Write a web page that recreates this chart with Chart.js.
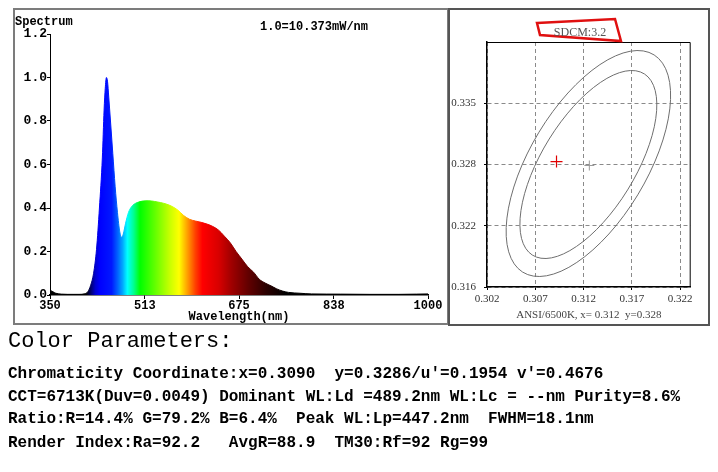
<!DOCTYPE html>
<html>
<head>
<meta charset="utf-8">
<script src="https://cdn.jsdelivr.net/npm/chart.js@4/dist/chart.umd.min.js"></script>
<style>
  html, body { margin: 0; padding: 0; background: #fff; }
  #root { position: relative; width: 718px; height: 472px; overflow: hidden; background: #fff; }
  .abs { position: absolute; }
  #lbox { left: 13px; top: 8px; width: 432px; height: 313px; border: 2px solid #7c7c7c; }
  #rbox { left: 448px; top: 8px; width: 258px; height: 314px; border: 2px solid #555; }
  #c1 { left: 14px; top: 9px; }
  #c2 { left: 449px; top: 9px; }
  .mono { font-family: "Liberation Mono", "Courier New", monospace; color: #000; white-space: pre; }
  .lbl { font-weight: bold; font-size: 12px; line-height: 14px; }
  .big { font-size: 22px; line-height: 22px; font-weight: normal; }
  .line { font-size: 16px; line-height: 16px; font-weight: bold; }
  #sdcm { font-family: "Liberation Serif", serif; font-size: 12px; line-height: 14px; color: #555; text-align: center; white-space: pre; }
</style>
</head>
<body>
<div id="root">
  <div id="lbox" class="abs"></div>
  <div id="rbox" class="abs"></div>
  <canvas id="c1" class="abs" width="434" height="316"></canvas>
  <canvas id="c2" class="abs" width="260" height="316"></canvas>
  <div class="abs mono lbl" style="left:15px; top:15px;">Spectrum</div>
  <div class="abs mono lbl" style="left:260px; top:20px;">1.0=10.373mW/nm</div>
  <svg class="abs" style="left:0; top:0;" width="718" height="472">
    <polygon points="537,23 615,19 621,41 540,35" fill="none" stroke="#e01010" stroke-width="2.5"/>
  </svg>
  <div id="sdcm" class="abs" style="left:540px; top:25px; width:80px;">SDCM:3.2</div>
  <div class="abs mono big" style="left:8px; top:331px;">Color Parameters:</div>
  <div class="abs mono line" style="left:8px; top:366px;">Chromaticity Coordinate:x=0.3090  y=0.3286/u'=0.1954 v'=0.4676</div>
  <div class="abs mono line" style="left:8px; top:389px;">CCT=6713K(Duv=0.0049) Dominant WL:Ld =489.2nm WL:Lc = --nm Purity=8.6%</div>
  <div class="abs mono line" style="left:8px; top:411px;">Ratio:R=14.4% G=79.2% B=6.4%  Peak WL:Lp=447.2nm  FWHM=18.1nm</div>
  <div class="abs mono line" style="left:8px; top:435px;">Render Index:Ra=92.2   AvgR=88.9  TM30:Rf=92 Rg=99</div>
</div>
<script>
// ---------- Spectrum data ----------
const wavelengths = [350,355,360,370,380,390,400,410,415,420,425,430,435,440,443,445,447,449,451,454,458,462,466,470,473,476,480,485,490,495,500,510,520,530,540,550,560,570,580,590,600,610,620,630,640,650,660,670,680,690,700,710,720,730,740,750,760,780,800,850,900,950,980,1000];
const intensity = [0.022,0.015,0.008,0.004,0.003,0.003,0.003,0.006,0.015,0.045,0.10,0.21,0.40,0.63,0.85,0.95,1.0,0.98,0.91,0.80,0.65,0.50,0.38,0.29,0.265,0.28,0.33,0.38,0.405,0.418,0.425,0.432,0.433,0.43,0.425,0.418,0.407,0.39,0.365,0.348,0.34,0.334,0.326,0.315,0.298,0.27,0.24,0.20,0.165,0.13,0.105,0.072,0.055,0.042,0.028,0.018,0.012,0.008,0.005,0.004,0.003,0.003,0.004,0.005];
const wavelengthTicks = [350,513,675,838,1000];
const intensityTicks = [0,0.2,0.4,0.6,0.8,1.0,1.2];

// ---------- Chromaticity data ----------
// MacAdam-type ellipses (outer, inner): centre, semi-axes (CIE x/y units), orientation
const ellipseCenterX = [0.3125, 0.3125];
const ellipseCenterY = [0.3285, 0.3284];
const ellipseSemiMajor = [0.01293, 0.01085];
const ellipseSemiMinor = [0.00602, 0.00481];
const ellipseAngleDeg = [58.2, 57.6];
const targetPointX = [0.3126];
const targetPointY = [0.3283];
const measuredPointX = [0.3092];
const measuredPointY = [0.3287];
const cieXTicks = [0.302,0.307,0.312,0.317,0.322];
const cieYTicks = [0.316,0.3222,0.3284,0.3346];

Chart.defaults.animation = false;
Chart.defaults.devicePixelRatio = 1;

const spectrumColors = [[350,'#000000'],[412,'#000000'],[420,'#00006a'],[428,'#0000d0'],[436,'#0000ff'],[456,'#0018ff'],[466,'#0060ff'],[475,'#00a8ff'],[483,'#00ffff'],[494,'#00ff90'],[505,'#00ff00'],[530,'#60ff00'],[556,'#c8ff00'],[572,'#ffff00'],[586,'#ffa000'],[600,'#ff4000'],[612,'#ff0000'],[640,'#d80000'],[662,'#a00000'],[692,'#600000'],[722,'#2a0000'],[755,'#000000'],[1000,'#000000']];

function spectrumFill(context) {
  const chart = context.chart;
  const xs = chart.scales && chart.scales.x;
  if (!xs || !chart.chartArea) return '#0000ff';
  const x0 = xs.getPixelForValue(350), x1 = xs.getPixelForValue(1000);
  const g = chart.ctx.createLinearGradient(x0, 0, x1, 0);
  spectrumColors.forEach(([nm, c]) => g.addColorStop((nm - 350) / 650, c));
  return g;
}

const monoBold = { family: 'Liberation Mono', weight: 'bold', size: 12 };

new Chart(document.getElementById('c1'), {
  type: 'line',
  data: {
    datasets: [{
      data: wavelengths.map((w, i) => ({ x: w, y: intensity[i] })),
      fill: 'origin',
      backgroundColor: spectrumFill,
      borderColor: spectrumFill,
      borderWidth: 1,
      pointRadius: 0,
      cubicInterpolationMode: 'monotone'
    }]
  },
  options: {
    responsive: false,
    animation: false,
    events: [],
    layout: { padding: { top: 25, right: 20, left: 0, bottom: 0 } },
    plugins: { legend: { display: false }, tooltip: { enabled: false }, title: { display: false } },
    scales: {
      x: {
        type: 'linear', min: 350, max: 1000,
        afterBuildTicks: s => { s.ticks = wavelengthTicks.map(v => ({ value: v })); },
        afterFit: s => { s.height = 30; },
        grid: { display: true, drawOnChartArea: false, drawTicks: true, tickLength: 4, color: '#000' },
        border: { display: true, color: '#000', width: 1.5 },
        ticks: { color: '#000', font: monoBold, padding: 0, maxRotation: 0, autoSkip: false, callback: v => String(v) },
        title: { display: true, text: 'Wavelength(nm)', color: '#000', font: monoBold, padding: { top: 0, bottom: 1 } }
      },
      y: {
        type: 'linear', min: 0, max: 1.2,
        afterBuildTicks: s => { s.ticks = intensityTicks.map(v => ({ value: v })); },
        afterFit: s => { s.width = 36; },
        grid: { display: true, drawOnChartArea: false, drawTicks: true, tickLength: 3, color: '#000' },
        border: { display: true, color: '#000', width: 1 },
        ticks: { color: '#000', font: { family: 'Liberation Mono', weight: 'bold', size: 13 }, padding: 0, callback: v => Number(v).toFixed(1) }
      }
    }
  }
});

const framePlugin = {
  id: 'frame',
  beforeDatasetsDraw(chart) {
    const { ctx, chartArea: a } = chart;
    ctx.save();
    ctx.strokeStyle = '#000';
    ctx.lineWidth = 1;
    ctx.beginPath();
    ctx.moveTo(a.left, a.top + 0.5);
    ctx.lineTo(a.right - 0.5, a.top + 0.5);
    ctx.lineTo(a.right - 0.5, a.bottom);
    ctx.stroke();
    ctx.restore();
  }
};

// draws each ellipse through the chart's x/y scales
const ellipsePlugin = {
  id: 'ellipses',
  beforeDatasetsDraw(chart) {
    const { ctx, scales: { x, y } } = chart;
    const sx = (x.getPixelForValue(x.max) - x.getPixelForValue(x.min)) / (x.max - x.min);
    const sy = (y.getPixelForValue(y.max) - y.getPixelForValue(y.min)) / (y.max - y.min);
    ctx.save();
    ctx.strokeStyle = '#6e6e6e';
    ctx.lineWidth = 1;
    for (let i = 0; i < ellipseCenterX.length; i++) {
      ctx.beginPath();
      ctx.save();
      ctx.translate(x.getPixelForValue(ellipseCenterX[i]), y.getPixelForValue(ellipseCenterY[i]));
      ctx.scale(sx, sy);
      ctx.rotate(ellipseAngleDeg[i] * Math.PI / 180);
      ctx.ellipse(0, 0, ellipseSemiMajor[i], ellipseSemiMinor[i], 0, 0, Math.PI * 2);
      ctx.restore();
      ctx.stroke();
    }
    ctx.restore();
  }
};

const serif11 = { family: 'Liberation Serif', size: 11 };

new Chart(document.getElementById('c2'), {
  type: 'scatter',
  data: {
    datasets: [
      { data: targetPointX.map((x, i) => ({ x, y: targetPointY[i] })), pointStyle: 'cross', pointRadius: 5, borderColor: '#9a9a9a', borderWidth: 1 },
      { data: measuredPointX.map((x, i) => ({ x, y: measuredPointY[i] })), pointStyle: 'cross', pointRadius: 6, borderColor: '#e00000', borderWidth: 1.2 }
    ]
  },
  options: {
    responsive: false,
    animation: false,
    events: [],
    layout: { padding: { top: 33, right: 18.3, left: 0, bottom: 0 } },
    plugins: { legend: { display: false }, tooltip: { enabled: false } },
    scales: {
      x: {
        type: 'linear', min: 0.302, max: 0.3231,
        afterBuildTicks: s => { s.ticks = cieXTicks.map(v => ({ value: v })); },
        afterFit: s => { s.height = 38; },
        grid: { display: true, drawOnChartArea: true, drawTicks: true, tickLength: 3, color: '#8a8a8a', lineWidth: 1, tickColor: '#000', tickBorderDash: [] },
        border: { display: true, color: '#000', width: 1.5, dash: [4, 3] },
        ticks: { color: '#333', font: serif11, padding: 3, maxRotation: 0, autoSkip: false, callback: v => Number(v).toFixed(3) },
        title: { display: true, text: 'ANSI/6500K, x= 0.312  y=0.328', color: '#444', font: serif11, padding: { top: 0, bottom: 3 } }
      },
      y: {
        type: 'linear', min: 0.316, max: 0.3408,
        afterBuildTicks: s => { s.ticks = cieYTicks.map(v => ({ value: v })); },
        afterFit: s => { s.width = 38; },
        grid: { display: true, drawOnChartArea: true, drawTicks: true, tickLength: 3, color: '#8a8a8a', lineWidth: 1, tickColor: '#000', tickBorderDash: [] },
        border: { display: true, color: '#000', width: 1.5, dash: [4, 3] },
        ticks: { color: '#333', font: serif11, padding: 8, callback: v => Number(v).toFixed(3) }
      }
    }
  },
  plugins: [framePlugin, ellipsePlugin]
});
</script>
</body>
</html>
